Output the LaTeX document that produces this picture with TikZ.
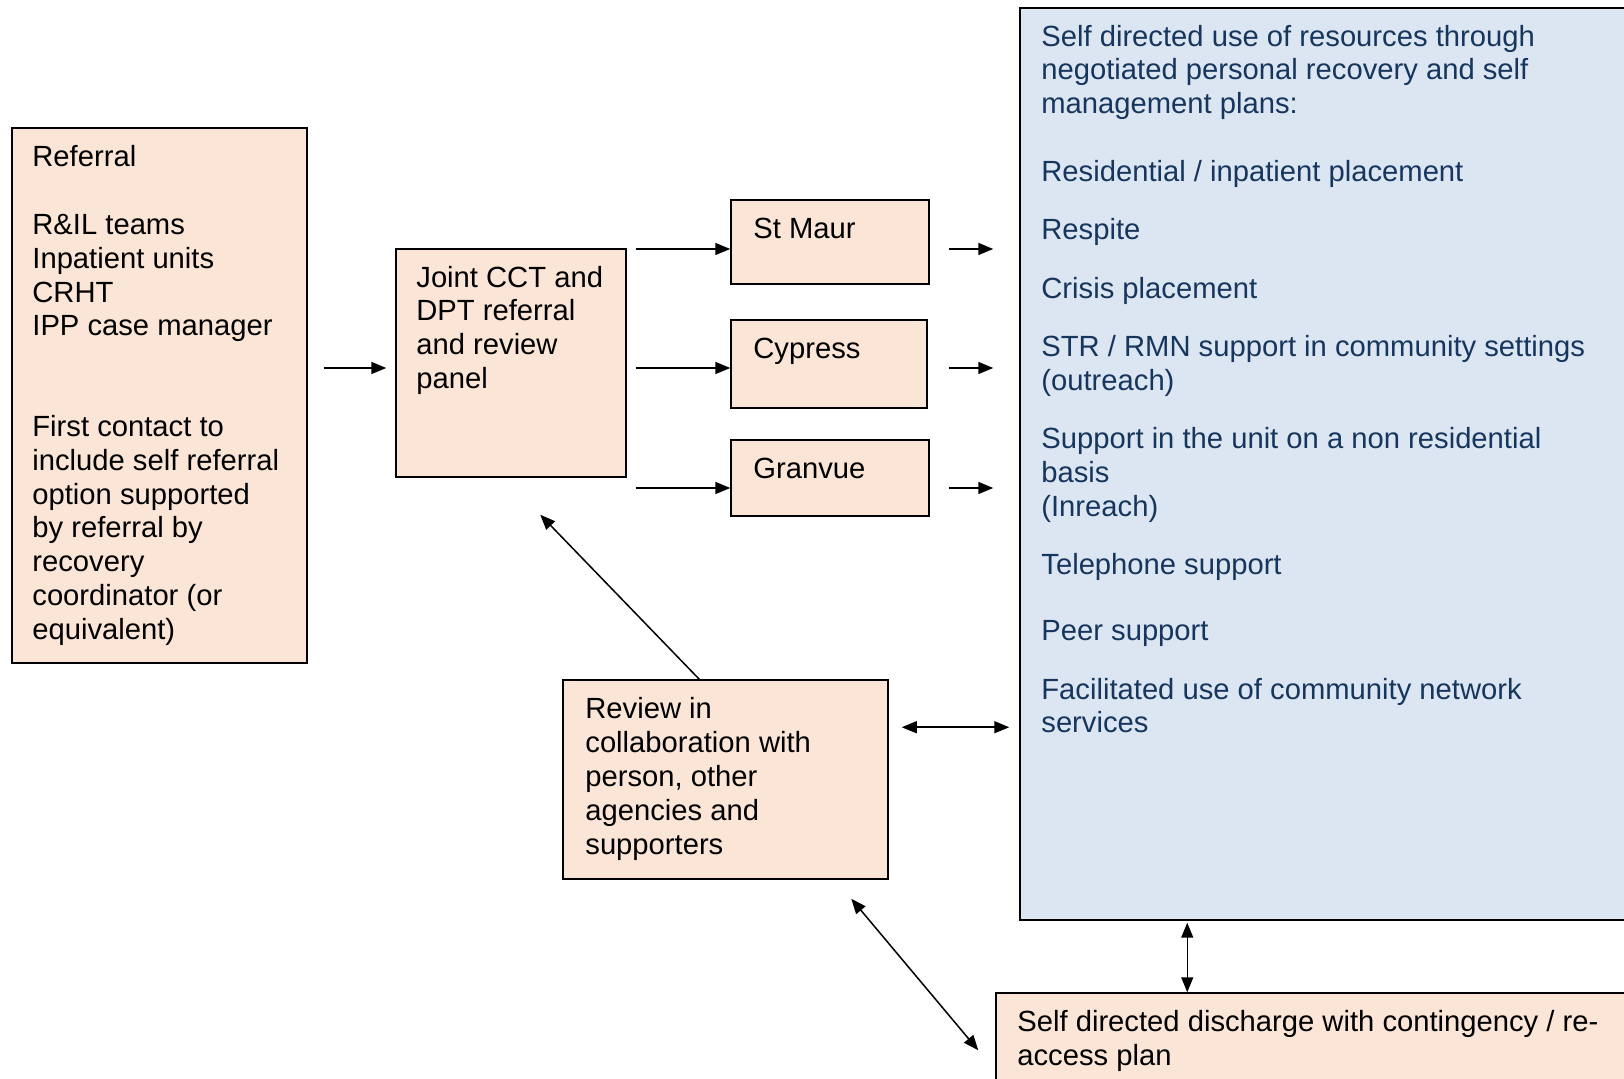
\documentclass[tikz,border=0pt]{standalone}
\usepackage{fontspec}
\setmainfont{Liberation Sans}
\usetikzlibrary{arrows.meta,fit,calc}
\definecolor{peach}{HTML}{FBE5D6}
\definecolor{paleblue}{HTML}{DCE6F2}
\definecolor{navy}{HTML}{17365D}
\begin{document}
\begin{tikzpicture}[x=0.5pt,y=-0.5pt,
  box/.style={draw=black,line width=0.75pt,fill=peach,inner sep=0pt},
  bluebox/.style={draw=black,line width=0.75pt,fill=paleblue,inner sep=0pt},
  txt/.style={anchor=north west,inner sep=0pt,align=left,font=\fontsize{14.6}{16.93}\selectfont},
  arr/.style={line width=0.75pt,-{Triangle[length=7.5pt,width=6pt]}},
  darr/.style={line width=0.75pt,{Triangle[length=7.5pt,width=6pt]}-{Triangle[length=7.5pt,width=6pt]}}]
\useasboundingbox (0,0) rectangle (1624,1079);
\fill[white] (0,0) rectangle (1624,1079);

% boxes
\node[box,fit={(12,128)(307,663)}] (ref) {};
\node[box,fit={(396,249)(626,477)}] (joint) {};
\node[box,fit={(731,200)(929,284)}] (sm) {};
\node[box,fit={(731,320)(927,408)}] (cy) {};
\node[box,fit={(731,440)(929,516)}] (gr) {};
\node[bluebox,fit={(1020,8)(1645,920)}] (blue) {};
\node[box,fit={(563,680)(888,879)}] (rev) {};
\node[box,fit={(996,993)(1645,1095)}] (dis) {};

% texts
\node[txt] (reftxt) at (32,142.5) {\strut Referral\\[16.93pt] R\&IL teams\\ Inpatient units\\ CRHT\\ IPP case manager\\[33.3pt] First contact to\\ include self referral\\ option supported\\ by referral by\\ recovery\\ coordinator (or\\ equivalent)};
\node[txt] (jointtxt) at (416,263) {\strut Joint CCT and\\ DPT referral\\ and review\\ panel};
\node[txt] (smtxt) at (753,214) {\strut St Maur};
\node[txt] (cytxt) at (753,334) {\strut Cypress};
\node[txt] (grtxt) at (753,454) {\strut Granvue};
\node[txt] (revtxt) at (585,694.5) {\strut Review in\\ collaboration with\\ person, other\\ agencies and\\ supporters};
\node[txt,text=navy] (bluetxt) at (1041,22) {\strut Self directed use of resources through\\ negotiated personal recovery and self\\ management plans:\\[17pt] Residential / inpatient placement\\[12.2pt] Respite\\[12.2pt] Crisis placement\\[12.2pt] STR / RMN support in community settings\\ (outreach)\\[12.2pt] Support in the unit on a non residential\\ basis\\ (Inreach)\\[12.2pt] Telephone support\\[16.2pt] Peer support\\[12.2pt] Facilitated use of community network\\ services};
\node[txt] (distxt) at (1017,1007.5) {\strut Self directed discharge with contingency / re-\\ access plan};

% connectors
\draw[arr] ($(ref.east |- joint.west)+(16,5)$) -- ($(joint.west)+(-9,5)$);
\draw[arr] ($(joint.east |- sm.west)+(9,7)$) -- ($(sm.west)+(0,7)$);
\draw[arr] ($(joint.east |- cy.west)+(9,4)$) -- ($(cy.west)+(0,4)$);
\draw[arr] ($(joint.east |- gr.west)+(9,10)$) -- ($(gr.west)+(0,10)$);
\draw[arr] ($(sm.east)+(19,7)$) -- ($(blue.west |- sm.west)+(-26,7)$);
\draw[arr] ($(cy.east)+(21,4)$) -- ($(blue.west |- cy.west)+(-26,4)$);
\draw[arr] ($(gr.east)+(19,10)$) -- ($(blue.west |- gr.west)+(-26,10)$);
\draw[arr] ($(rev.north west)+(137,0)$) -- ($(joint.south west)+(145,37)$);
\draw[darr] ($(rev.north east)+(13,48)$) -- ($(blue.west |- rev.north)+(-10,48)$);
\draw[darr] ($(blue.south west)+(168,2)$) -- ($(dis.north west)+(192,0)$);
\draw[darr] ($(rev.south west)+(289,19)$) -- ($(dis.north west)+(-17,58)$);
\end{tikzpicture}
\end{document}
